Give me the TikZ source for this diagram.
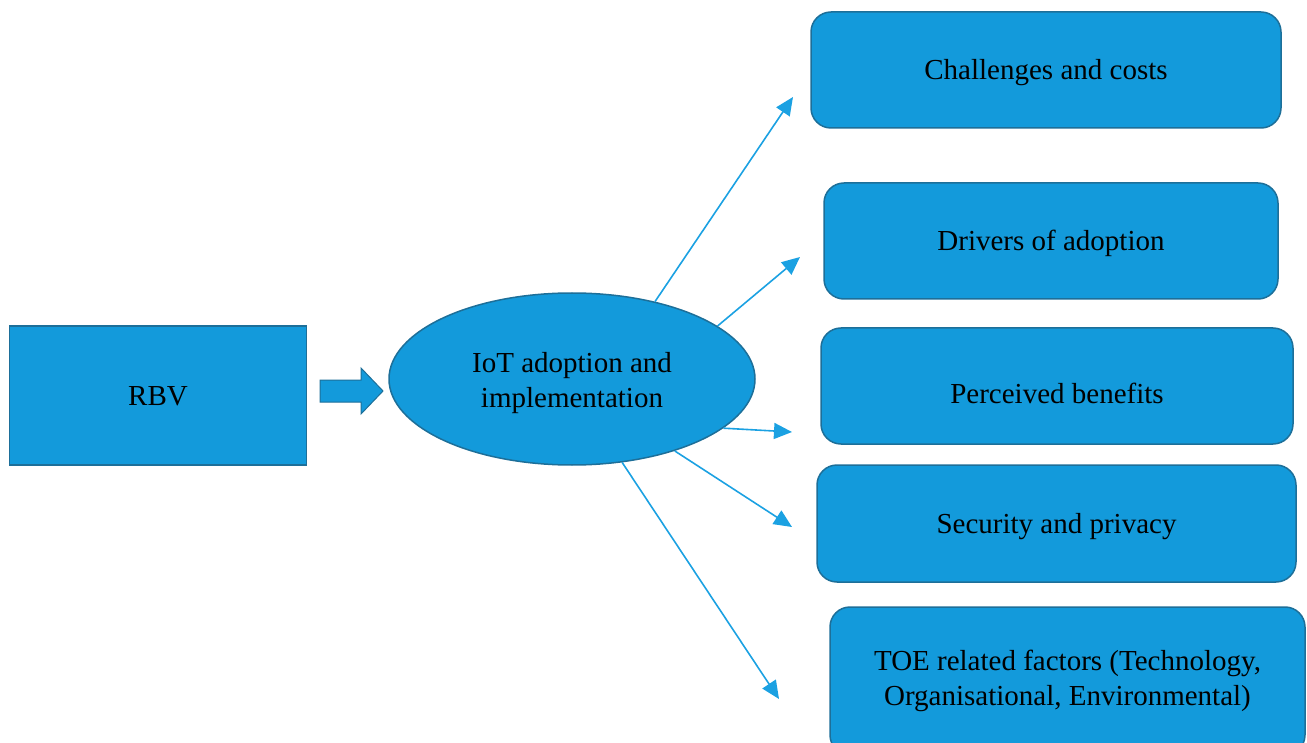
\documentclass[tikz,border=0pt]{standalone}
\usepackage{fontspec}
\setmainfont{Liberation Serif}
\usetikzlibrary{positioning}
\usetikzlibrary{arrows.meta,shapes}

\definecolor{boxblue}{RGB}{19,154,219}
\definecolor{edgeblue}{RGB}{29,111,153}
\definecolor{lineblue}{RGB}{27,161,226}

\tikzset{
  txt/.style={font=\fontsize{29}{35}\selectfont, align=center, text height=24pt, text depth=4pt},
  factor/.style={txt, draw=edgeblue, line width=1.5pt, fill=boxblue, rounded corners=20pt},
  link/.style={draw=lineblue, line width=1.6pt, -{Triangle[length=18pt,width=16pt]}}
}

\begin{document}
\begin{tikzpicture}[x=1pt,y=-1pt]
\useasboundingbox (0,0) rectangle (1307,743);

% theory box
\node[txt, draw=edgeblue, line width=1.5pt, fill=boxblue, minimum width=297pt, minimum height=139pt] (rbv) at (158,395.5) {RBV};

% block arrow
\draw[draw=edgeblue, fill=boxblue, line width=1pt] (320,380) -- (361,380) -- (361,368) -- (383,391) -- (361,414) -- (361,402) -- (320,402) -- cycle;

% central ellipse
\node[txt, ellipse, draw=edgeblue, line width=1.5pt, fill=boxblue, minimum width=366pt, minimum height=172pt, text height=60pt] (iot) at (572,379) {IoT adoption and\\implementation};

% factor boxes
\node[factor, minimum width=470pt, minimum height=116pt] (challenges) at (1046,70) {Challenges and costs};
\node[factor, minimum width=454pt, minimum height=116pt] (drivers) at (1051,241) {Drivers of adoption};
\node[factor, minimum width=472pt, minimum height=116pt, text height=38pt] (benefits) at (1057,386) {Perceived benefits};
\node[factor, minimum width=479pt, minimum height=117pt] (security) at (1056.5,523.5) {Security and privacy};
\node[factor, minimum width=475pt, minimum height=148pt, text height=52pt] (toe) at (1067.5,681) {TOE related factors (Technology,\\Organisational, Environmental)};

% free arrow ends
\coordinate (tip1) at (793,97);
\coordinate (tip2) at (800,257);
\coordinate (tip3) at (792,432);
\coordinate (tip4) at (792,527);
\coordinate (tip5) at (779,699);

%arrows
\draw[link] (iot.43) -- (tip1);
\draw[link] (iot.20) -- (tip2);
\draw[link] (iot.-18) -- (tip3);
\draw[link] (iot.-35) -- (tip4);
\draw[link] (iot.-59) -- (tip5);

\end{tikzpicture}
\end{document}
